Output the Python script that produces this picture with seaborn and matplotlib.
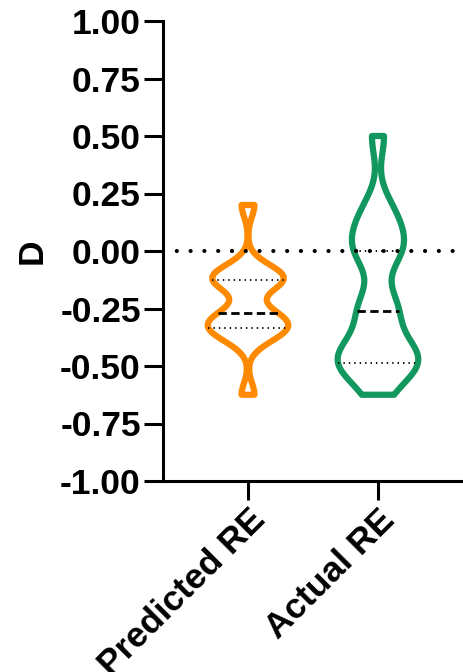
import matplotlib
matplotlib.use("Agg")
import matplotlib.pyplot as plt
import numpy as np
import pandas as pd
import seaborn as sns

# values of D
predicted_re = [-0.625, -0.39, -0.36, -0.333, -0.333, -0.32, -0.3, -0.29,
                -0.25, -0.14, -0.125, -0.125, -0.125, -0.1, -0.075, 0.2]
actual_re = [-0.625, -0.5, -0.5, -0.5, -0.5, -0.45, -0.425, -0.4, -0.28,
             -0.24, -0.23, 0.0, 0.0, 0.0, 0.1, 0.125, 0.2, 0.5]
groups = ["Predicted RE", "Actual RE"]
colors = ["#FF8A00", "#12985F"]
y_ticks = [1.0, 0.75, 0.5, 0.25, 0.0, -0.25, -0.5, -0.75, -1.0]

df = pd.DataFrame({
    "group": [groups[0]] * len(predicted_re) + [groups[1]] * len(actual_re),
    "D": predicted_re + actual_re,
})

sns.set_style("ticks")
plt.rcParams["font.family"] = ["Liberation Sans", "DejaVu Sans"]
plt.rcParams["font.weight"] = "bold"
plt.rcParams["text.color"] = "black"
plt.rcParams["axes.labelcolor"] = "black"

fig = plt.figure(figsize=(4.64, 6.72), dpi=100)
ax = fig.add_axes([163 / 464, 1 - 481 / 672, 301 / 464, 460 / 672])

sns.violinplot(data=df, x="group", y="D", hue="group", order=groups,
               palette=colors, legend=False, fill=False, cut=0,
               bw_adjust=0.5, width=0.62, density_norm="width",
               inner="quart", inner_kws=dict(color="black"),
               linewidth=4.5, ax=ax)

# Prism style quartile lines: dashed median, dotted quartiles
quart_lines = list(ax.lines)
for k, ln in enumerate(quart_lines):
    ln.set_color("black")
    if k % 3 == 1:
        ln.set_linewidth(2.0)
        ln.set_dashes([3, 1.6])
    else:
        ln.set_linewidth(1.3)
        ln.set_dashes([0.8, 2.2])
for coll in ax.collections:
    coll.set_joinstyle("round")

ax.axhline(0, color="black", linewidth=3, linestyle=(0, (0.01, 3.3)),
           dash_capstyle="round", zorder=5)

ax.set_ylim(-1, 1)
ax.set_xlim(-0.654, 1.662)
ax.set_yticks(y_ticks)
ax.set_yticklabels([f"{v:.2f}" for v in y_ticks])
ax.set_xlabel("")
ax.set_ylabel("D", fontsize=25.5, fontweight="bold", labelpad=8)
ax.tick_params(axis="both", length=14, width=2.2, labelsize=25.5, pad=2,
               color="black", labelcolor="black")
plt.setp(ax.get_xticklabels(), rotation=45, ha="right",
         rotation_mode="anchor", fontweight="bold")
plt.setp(ax.get_yticklabels(), fontweight="bold")
sns.despine(ax=ax)
for side in ["left", "bottom"]:
    ax.spines[side].set_linewidth(2.2)
    ax.spines[side].set_color("black")

fig.savefig("out.png", dpi=100)
